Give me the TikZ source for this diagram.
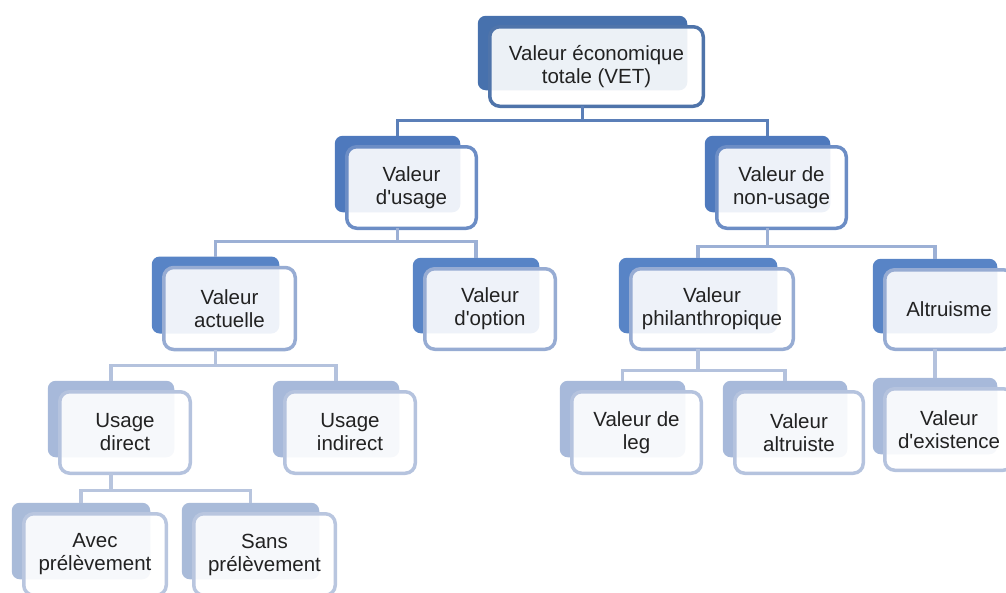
\documentclass[tikz,border=0pt]{standalone}
\usepackage{fontspec}
\setmainfont{Liberation Sans}
\usetikzlibrary{backgrounds,calc}
\definecolor{txt}{HTML}{222222}
\definecolor{bk0}{HTML}{4771AD}
\definecolor{bk1}{HTML}{4E79BD}
\definecolor{bk2}{HTML}{5884C6}
\definecolor{bk3}{HTML}{A7B9DA}
\definecolor{bk4}{HTML}{A9BBD9}
\definecolor{bd0}{HTML}{4F74AA}
\definecolor{bd1}{HTML}{6C8DC5}
\definecolor{bd2}{HTML}{97ACD3}
\definecolor{bd3}{HTML}{B5C3DE}
\definecolor{bd4}{HTML}{B9C6DF}
\definecolor{cn0}{HTML}{5B7FB8}
\definecolor{cn1}{HTML}{9CB0D5}
\definecolor{cn2}{HTML}{B4C2DD}
\definecolor{cn3}{HTML}{B8C5DE}
\newcommand\ap{\textquotesingle}
\tikzset{
  card/.style={draw, line width=3.5pt, rounded corners=10pt, fill=white,
    fill opacity=0.9, text opacity=1, align=center,
    font=\fontsize{20.5}{23}\selectfont, text=txt, inner sep=0pt, outer sep=0pt},
  f0/.style={card, draw=bd0},
  f1/.style={card, draw=bd1},
  f2/.style={card, draw=bd2},
  f3/.style={card, draw=bd3},
  f4/.style={card, draw=bd4},
  conn/.style={line width=3.5pt},
  c0/.style={conn, draw=cn0},
  c1/.style={conn, draw=cn1},
  c2/.style={conn, draw=cn2},
  c3/.style={conn, draw=cn3},
}
\newcommand\mkcard[6]{%
  \node[f#5, minimum width=#3, minimum height=#4] (#1) at (#2) {#6};
  \begin{scope}[on background layer]
    \fill[bk#5, rounded corners=8pt] ($(#1.north west)+(-12,-11)$) rectangle ($(#1.south east)+(-16,-16)$);
  \end{scope}}
\begin{document}
\begin{tikzpicture}[x=1pt,y=-1pt]
\useasboundingbox (0,0) rectangle (1006,592);
\clip (0,0) rectangle (1006,592);

\mkcard{A}{596.5,66.5}{213.5}{79.5}{0}{Valeur économique\\totale (VET)}
\mkcard{B}{411.5,187.5}{129.5}{81.5}{1}{Valeur\\d\ap usage}
\mkcard{C}{781.5,187.5}{129.5}{81.5}{1}{Valeur de\\non-usage}
\mkcard{D}{229.5,308.5}{131.5}{82}{2}{Valeur\\actuelle}
\mkcard{E}{490,309}{130.5}{80.5}{2}{Valeur\\d\ap option}
\mkcard{F}{712,309}{162.5}{80.5}{2}{Valeur\\philanthropique}
\mkcard{G}{949,309.5}{128.5}{79.5}{2}{Altruisme}
\mkcard{H}{949,429.5}{128.5}{81.5}{3}{Valeur\\d\ap existence}
\mkcard{I}{125,432.5}{130.5}{81.5}{3}{Usage\\direct}
\mkcard{J}{350,432.5}{130.5}{81.5}{3}{Usage\\indirect}
\mkcard{K}{636.5,432.5}{129.5}{81.5}{3}{Valeur de\\leg}
\mkcard{L}{799,432.5}{128.5}{81.5}{3}{Valeur\\altruiste}
\mkcard{M}{95,554.5}{142.5}{81.5}{4}{Avec\\prélèvement}
\mkcard{N}{264.5,554.5}{141.5}{81.5}{4}{Sans\\prélèvement}

% connectors
\draw[c0] ($(A.south)+(-14,0)$) -- ($(A.south)+(-14,14)$) coordinate (a1);
\draw[c0] ($(B.north)+(-14,-11)$) |- (a1) -| ($(C.north)+(-14,-11)$);

\draw[c1] ($(B.south)+(-14,0)$) -- ($(B.south)+(-14,13)$) coordinate (b1);
\draw[c1] ($(D.north)+(-14,-11)$) |- (b1) -| ($(E.north)+(-14,-11)$);

\draw[c1] ($(C.south)+(-14,0)$) -- ($(C.south)+(-14,18)$) coordinate (c1);
\draw[c1] ($(F.north)+(-14,-11)$) |- (c1) -| ($(G.north)+(-14,-11)$);

\draw[c2] ($(D.south)+(-14,0)$) -- ($(D.south)+(-14,16)$) coordinate (d1);
\draw[c2] ($(I.north)+(-14,-11)$) |- (d1) -| ($(J.north)+(-14,-11)$);

\draw[c2] ($(F.south)+(-14,0)$) -- ($(F.south)+(-14,21)$) coordinate (f1);
\draw[c2] ($(K.north)+(-14,-11)$) |- (f1) -| ($(L.north)+(-14,-11)$);

\draw[c2] ($(G.south)+(-14,0)$) -- ($(H.north)+(-14,-11)$);

\draw[c3] ($(I.south)+(-14,0)$) -- ($(I.south)+(-14,17)$) coordinate (i1);
\draw[c3] ($(M.north)+(-14,-11)$) |- (i1) -| ($(N.north)+(-14,-11)$);
\end{tikzpicture}
\end{document}
